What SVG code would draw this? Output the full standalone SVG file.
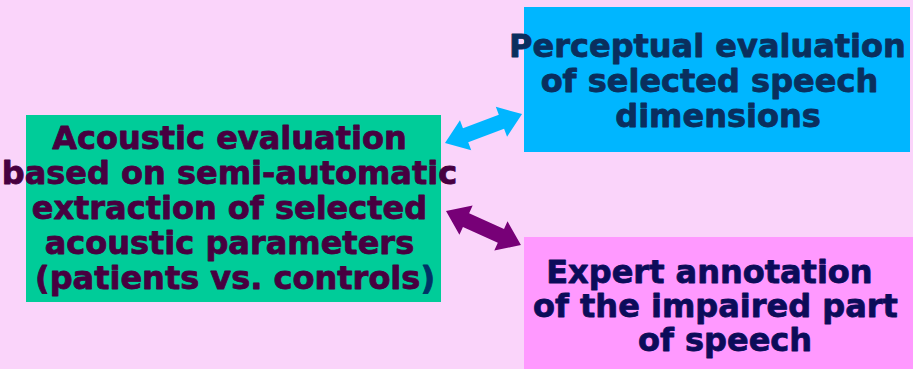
<svg xmlns="http://www.w3.org/2000/svg" width="913" height="369" viewBox="0 0 913 369">
<style>
.t{font-family:"DejaVu Sans","Verdana",sans-serif;font-weight:bold;font-size:32px;text-anchor:middle;stroke-width:0.8px;stroke-linejoin:round}
</style>
<defs>
<polygon id="dbl" points="0,0 22,-16 22,-7.5 60.3,-7.5 60.3,-16 82.3,0 60.3,16 60.3,7.5 22,7.5 22,16"/>
</defs>
<rect width="913" height="369" fill="#fad4fa"/>
<g id="acoustic">
<rect x="26" y="115" width="415" height="187" fill="#00cc99"/>
<text class="t" fill="#470040" stroke="#470040">
<tspan x="235" y="149">Acoustic evaluation</tspan>
<tspan x="235" y="184">based on semi-automatic</tspan>
<tspan x="235" y="219">extraction of selected</tspan>
<tspan x="235" y="254">acoustic parameters</tspan>
<tspan x="235" y="289">(patients vs. controls<tspan fill="#003366" stroke="#003366">)</tspan></tspan>
</text>
</g>
<g id="perceptual">
<rect x="524" y="7" width="386" height="145" fill="#00b6ff"/>
<text class="t" fill="#0a2f5e" stroke="#0a2f5e">
<tspan x="713" y="57">Perceptual evaluation</tspan>
<tspan x="715" y="92">of selected speech</tspan>
<tspan x="718" y="127">dimensions</tspan>
</text>
</g>
<g id="expert">
<rect x="524" y="237" width="389" height="132" fill="#ff99ff"/>
<text class="t" fill="#0c0c5a" stroke="#0c0c5a">
<tspan x="715" y="283">Expert annotation</tspan>
<tspan x="721" y="317">of the impaired part</tspan>
<tspan x="725" y="351">of speech</tspan>
</text>
</g>
<g id="connectors">
<use href="#dbl" fill="#00b6ff" transform="translate(445,143) rotate(-20.6)"/>
<use href="#dbl" fill="#770077" transform="translate(446,211) rotate(24.4)"/>
</g>
</svg>
